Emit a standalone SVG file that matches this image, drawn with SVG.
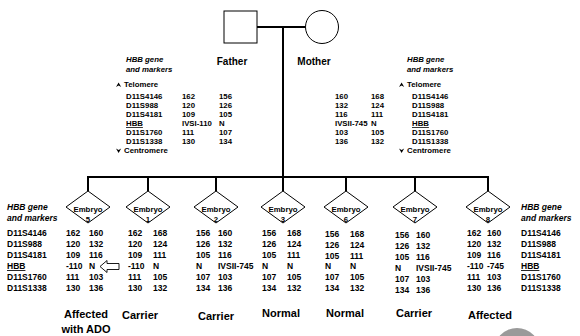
<svg xmlns="http://www.w3.org/2000/svg" width="580" height="336" viewBox="0 0 580 336">
  <style>
    text { font-family: "Liberation Sans", Arial, sans-serif; font-weight: bold; fill: #000; }
    .hd { font-size: 10px; }
    .mk { font-size: 7.8px; }
    .tb { font-size: 8.5px; }
    .it { font-style: italic; }
    .em { font-size: 7.8px; text-anchor: middle; }
    .lb { font-size: 11px; text-anchor: middle; }
    .ln { stroke: #000; stroke-width: 2; fill: none; }
    .sym { stroke: #000; stroke-width: 1; fill: #fff; }
  </style>
  <defs>
    <polygon id="up" points="0,0 2.6,-4.5 5.2,0 2.6,-1.4"/>
    <polygon id="dn" points="0,-4.5 2.6,0 5.2,-4.5 2.6,-3.1"/>
    <polygon id="dia" points="0,-16 22,0 0,16 -22,0" class="sym"/>
  </defs>

  <rect width="580" height="336" fill="#fff"/>

  <!-- connectors -->
  <g id="connectors" class="ln">
    <path d="M257,27 H305"/>
    <path d="M283,27 V177"/>
    <path d="M87,177 H489"/>
    <path d="M88,177 V191 M148,177 V191 M216,177 V191 M283,177 V191 M346,177 V191 M415,177 V191 M488,177 V191"/>
  </g>

  <!-- parents -->
  <g id="father">
    <rect x="224" y="11" width="33" height="32" class="sym"/>
    <text class="hd" x="232" y="65" text-anchor="middle">Father</text>
  </g>
  <g id="mother">
    <circle cx="322" cy="27" r="16.5" class="sym"/>
    <text class="hd" x="314" y="65" text-anchor="middle">Mother</text>
  </g>

  <!-- paternal haplotypes -->
  <g id="father-markers" class="mk">
    <text class="it" x="126" y="62">HBB gene</text>
    <text class="it" x="126" y="72">and markers</text>
    <use href="#up" x="116" y="87"/>
    <text x="124" y="87">Telomere</text>
    <text x="126" y="99">D11S4146</text><text x="182" y="99">162</text><text x="219" y="99">156</text>
    <text x="126" y="108">D11S988</text><text x="182" y="108">120</text><text x="219" y="108">126</text>
    <text x="126" y="117">D11S4181</text><text x="182" y="117">109</text><text x="219" y="117">105</text>
    <text x="126" y="126" text-decoration="underline">HBB</text><text x="182" y="126">IVSI-110</text><text x="219" y="126">N</text>
    <text x="126" y="135">D11S1760</text><text x="182" y="135">111</text><text x="219" y="135">107</text>
    <text x="126" y="144">D11S1338</text><text x="182" y="144">130</text><text x="219" y="144">134</text>
    <use href="#dn" x="116" y="153"/>
    <text x="124" y="153">Centromere</text>
  </g>

  <!-- maternal haplotypes -->
  <g id="mother-markers" class="mk">
    <text class="it" x="407" y="62">HBB gene</text>
    <text class="it" x="407" y="72">and markers</text>
    <use href="#up" x="399" y="87"/>
    <text x="407" y="87">Telomere</text>
    <text x="335" y="99">160</text><text x="371" y="99">168</text><text x="412" y="99">D11S4146</text>
    <text x="335" y="108">132</text><text x="371" y="108">124</text><text x="412" y="108">D11S988</text>
    <text x="335" y="117">116</text><text x="371" y="117">111</text><text x="412" y="117">D11S4181</text>
    <text x="335" y="126">IVSII-745</text><text x="371" y="126">N</text><text x="412" y="126" text-decoration="underline">HBB</text>
    <text x="335" y="135">103</text><text x="371" y="135">105</text><text x="412" y="135">D11S1760</text>
    <text x="335" y="144">136</text><text x="371" y="144">132</text><text x="412" y="144">D11S1338</text>
    <use href="#dn" x="399" y="153"/>
    <text x="407" y="153">Centromere</text>
  </g>

  <!-- marker legends beside the embryos -->
  <g id="legend-left" class="tb">
    <text class="it" x="7" y="210">HBB gene</text>
    <text class="it" x="7" y="221">and markers</text>
    <text x="7" y="236">D11S4146</text>
    <text x="7" y="247">D11S988</text>
    <text x="7" y="258">D11S4181</text>
    <text x="7" y="269" text-decoration="underline">HBB</text>
    <text x="7" y="280">D11S1760</text>
    <text x="7" y="291">D11S1338</text>
  </g>
  <g id="legend-right" class="tb">
    <text class="it" x="521" y="210">HBB gene</text>
    <text class="it" x="521" y="221">and markers</text>
    <text x="521" y="236">D11S4146</text>
    <text x="521" y="247">D11S988</text>
    <text x="521" y="258">D11S4181</text>
    <text x="521" y="269" text-decoration="underline">HBB</text>
    <text x="521" y="280">D11S1760</text>
    <text x="521" y="291">D11S1338</text>
  </g>

  <!-- embryos -->
  <g id="embryo-5">
    <use href="#dia" x="88" y="207"/>
    <text class="em" x="88" y="212">Embryo</text>
    <text class="em" x="88" y="222">5</text>
    <g class="tb">
      <text x="66" y="236">162</text><text x="89" y="236">160</text>
      <text x="66" y="247">120</text><text x="89" y="247">132</text>
      <text x="66" y="258">109</text><text x="89" y="258">116</text>
      <text x="66" y="269">-110</text><text x="89" y="269">N</text>
      <text x="66" y="280">111</text><text x="89" y="280">103</text>
      <text x="66" y="291">130</text><text x="89" y="291">136</text>
    </g>
    <polygon points="100,266.5 107,260.5 107,263.5 119,263.5 119,269.5 107,269.5 107,272.5" fill="#fff" stroke="#000" stroke-width="0.9"/>
    <text class="lb" x="86" y="318">Affected</text>
    <text class="lb" x="86" y="333">with ADO</text>
  </g>

  <g id="embryo-1">
    <use href="#dia" x="148" y="207"/>
    <text class="em" x="148" y="212">Embryo</text>
    <text class="em" x="148" y="222">1</text>
    <g class="tb">
      <text x="128" y="236">162</text><text x="153" y="236">168</text>
      <text x="128" y="247">120</text><text x="153" y="247">124</text>
      <text x="128" y="258">109</text><text x="153" y="258">111</text>
      <text x="128" y="269">-110</text><text x="153" y="269">N</text>
      <text x="128" y="280">111</text><text x="153" y="280">105</text>
      <text x="128" y="291">130</text><text x="153" y="291">132</text>
    </g>
    <text class="lb" x="140" y="319">Carrier</text>
  </g>

  <g id="embryo-2">
    <use href="#dia" x="216" y="207"/>
    <text class="em" x="216" y="212">Embryo</text>
    <text class="em" x="216" y="222">2</text>
    <g class="tb">
      <text x="196" y="236">156</text><text x="218" y="236">160</text>
      <text x="196" y="247">126</text><text x="218" y="247">132</text>
      <text x="196" y="258">105</text><text x="218" y="258">116</text>
      <text x="196" y="269">N</text><text x="218" y="269">IVSII-745</text>
      <text x="196" y="280">107</text><text x="218" y="280">103</text>
      <text x="196" y="291">134</text><text x="218" y="291">136</text>
    </g>
    <text class="lb" x="216" y="320">Carrier</text>
  </g>

  <g id="embryo-3">
    <use href="#dia" x="283" y="207"/>
    <text class="em" x="283" y="212">Embryo</text>
    <text class="em" x="283" y="222">3</text>
    <g class="tb">
      <text x="262" y="236">156</text><text x="287" y="236">168</text>
      <text x="262" y="247">126</text><text x="287" y="247">124</text>
      <text x="262" y="258">105</text><text x="287" y="258">111</text>
      <text x="262" y="269">N</text><text x="287" y="269">N</text>
      <text x="262" y="280">107</text><text x="287" y="280">105</text>
      <text x="262" y="291">134</text><text x="287" y="291">132</text>
    </g>
    <text class="lb" x="281" y="317">Normal</text>
  </g>

  <g id="embryo-6">
    <use href="#dia" x="346" y="207"/>
    <text class="em" x="346" y="212">Embryo</text>
    <text class="em" x="346" y="222">6</text>
    <g class="tb">
      <text x="325" y="237">156</text><text x="350" y="237">168</text>
      <text x="325" y="248">126</text><text x="350" y="248">124</text>
      <text x="325" y="259">105</text><text x="350" y="259">111</text>
      <text x="325" y="269">N</text><text x="350" y="269">N</text>
      <text x="325" y="280">107</text><text x="350" y="280">105</text>
      <text x="325" y="291">134</text><text x="350" y="291">132</text>
    </g>
    <text class="lb" x="345" y="317">Normal</text>
  </g>

  <g id="embryo-7">
    <use href="#dia" x="415" y="207"/>
    <text class="em" x="415" y="212">Embryo</text>
    <text class="em" x="415" y="222">7</text>
    <g class="tb">
      <text x="395" y="238">156</text><text x="416" y="238">160</text>
      <text x="395" y="249">126</text><text x="416" y="249">132</text>
      <text x="395" y="260">105</text><text x="416" y="260">116</text>
      <text x="395" y="271">N</text><text x="416" y="271">IVSII-745</text>
      <text x="395" y="282">107</text><text x="416" y="282">103</text>
      <text x="395" y="293">134</text><text x="416" y="293">136</text>
    </g>
    <text class="lb" x="414" y="317">Carrier</text>
  </g>

  <g id="embryo-8">
    <use href="#dia" x="488" y="207"/>
    <text class="em" x="488" y="212">Embryo</text>
    <text class="em" x="488" y="222">8</text>
    <g class="tb">
      <text x="467" y="236">162</text><text x="487" y="236">160</text>
      <text x="467" y="247">120</text><text x="487" y="247">132</text>
      <text x="467" y="258">109</text><text x="487" y="258">116</text>
      <text x="467" y="269">-110</text><text x="487" y="269">-745</text>
      <text x="467" y="280">111</text><text x="487" y="280">103</text>
      <text x="467" y="291">130</text><text x="487" y="291">136</text>
    </g>
    <text class="lb" x="490" y="319">Affected</text>
  </g>

  <!-- grey disc at the lower edge -->
  <circle cx="517" cy="351" r="23" fill="#9a9a9a"/>
</svg>
